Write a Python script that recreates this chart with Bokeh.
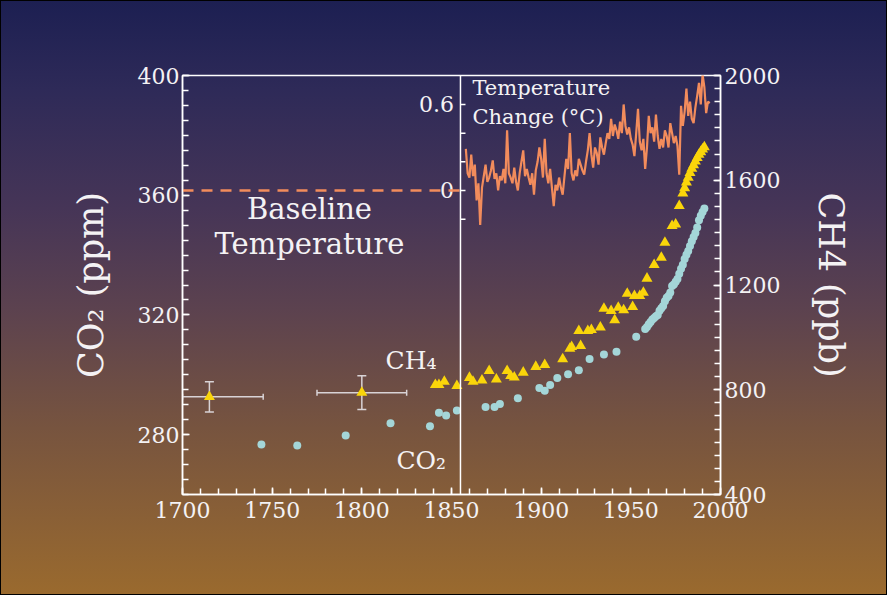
from bokeh.plotting import figure
from bokeh.models import Range1d, LinearAxis, FixedTicker, Whisker, TeeHead, ColumnDataSource, Span
from bokeh.core.properties import value
from bokeh.embed import file_html
from bokeh.resources import INLINE

# ---------------- data ----------------
co2_years = [1744, 1764, 1791, 1816, 1838, 1843, 1847, 1853, 1869, 1874, 1877, 1887,
             1899, 1902, 1905, 1909, 1915, 1921, 1927, 1935, 1942, 1953,
             1958, 1959, 1960, 1961, 1962, 1963, 1964, 1965, 1966, 1967, 1968, 1969,
             1970, 1971, 1972, 1973, 1974, 1975, 1976, 1977, 1978, 1979, 1980, 1981,
             1982, 1983, 1984, 1985, 1986, 1987, 1988, 1989, 1990, 1991]
co2_ppm = [276.7, 276.4, 279.7, 283.8, 282.8, 287.3, 286.4, 288.1, 289.2, 289.2, 290.2, 292.2,
           295.6, 294.7, 296.6, 298.9, 300.2, 301.5, 305.3, 306.8, 307.7, 312.7,
           315.3, 316.0, 316.9, 317.6, 318.5, 319.0, 319.6, 320.0, 321.4, 322.2, 323.0, 324.6,
           325.7, 326.3, 327.5, 329.7, 330.2, 331.1, 332.0, 333.8, 335.4, 336.8, 338.7, 340.1,
           341.4, 343.0, 344.6, 346.0, 347.4, 349.2, 351.6, 353.1, 354.4, 355.6]

ch4_years = [1841, 1843, 1846, 1853, 1860, 1862, 1867, 1871, 1875, 1881, 1883, 1885,
             1890, 1897, 1902, 1912, 1916, 1917, 1922, 1921, 1926, 1928, 1933, 1935,
             1939, 1941, 1943, 1946, 1951, 1948, 1952, 1955, 1957, 1959, 1963, 1967,
             1969, 1973, 1975, 1977, 1979, 1980, 1981, 1982, 1983, 1984, 1985, 1986,
             1987, 1988, 1989, 1990, 1991]
ch4_ppb = [819, 819, 831, 815, 846, 831, 836, 872, 840, 872, 853, 847,
           866, 888, 895, 917, 957, 964, 968, 1025, 1025, 1029, 1038, 1110,
           1101, 1066, 1114, 1104, 1117, 1167, 1159, 1159, 1171, 1225, 1277, 1305,
           1362, 1426, 1432, 1502, 1550, 1570, 1592, 1610, 1628, 1645, 1658, 1672,
           1686, 1698, 1708, 1718, 1727]

# ice-core CH4 points with error bars
ch4_err_years = [1715, 1800]
ch4_err_ppb = [773, 789]
ch4_err_dppb = [58, 64]
ch4_err_dyears = [30, 25]

# temperature change (deg C), annual 1858-1994
temp_years = list(range(1858, 1995))
temp_c = [0.29, 0.12,
          0.09, 0.25, 0.10, 0.18, -0.07, 0.05, -0.24, 0.02, 0.10, 0.18,
          0.06, 0.09, 0.14, 0.21, 0.08, 0.12, 0.00, 0.10, 0.07, 0.15,
          0.05, 0.42, 0.12, 0.09, 0.05, 0.16, 0.06, 0.00, 0.12, 0.20,
          0.28, 0.10, 0.15, 0.09, 0.04, 0.12, -0.03, 0.14, 0.20, 0.30,
          0.22, 0.09, 0.36, 0.12, 0.05, 0.15, 0.02, -0.11, 0.04, 0.00,
          0.09, 0.02, -0.03, 0.10, 0.22, 0.15, 0.40, 0.12, 0.07, 0.14,
          0.10, 0.22, 0.18, 0.14, 0.11, 0.20, 0.28, 0.40, 0.25, 0.16,
          0.30, 0.26, 0.18, 0.37, 0.30, 0.25, 0.33, 0.40, 0.36, 0.50,
          0.38, 0.46, 0.42, 0.36, 0.48, 0.40, 0.60, 0.45, 0.39, 0.44,
          0.36, 0.32, 0.24, 0.40, 0.57, 0.34, 0.28, 0.36, 0.15, 0.30,
          0.52, 0.40, 0.44, 0.34, 0.53, 0.38, 0.29, 0.36, 0.30, 0.42,
          0.38, 0.30, 0.47, 0.40, 0.33, 0.38, 0.31, 0.11, 0.59, 0.45,
          0.55, 0.71, 0.52, 0.62, 0.50, 0.47, 0.58, 0.66, 0.75, 0.60,
          0.81, 0.72, 0.54, 0.62, 0.61]

baseline_years = [1700, 1855]
baseline_temp = [0, 0]
divider_year = 1855

x_ticks = [1700, 1750, 1800, 1850, 1900, 1950, 2000]
co2_ticks = [280, 320, 360, 400]
ch4_ticks = [400, 800, 1200, 1600, 2000]
temp_ticks = [-0.2, 0, 0.2, 0.4, 0.6]
temp_tick_labels = ["0", "0.6"]
temp_tick_label_values = [0, 0.6]

# ---------------- style ----------------
FONT = "DejaVu Serif"
WHITE = "#f4f2f4"
ORANGE = "#f28c5c"
YELLOW = "#fad50a"
CYAN = "#a4d6d8"
ERR = "#d9d3d6"

p = figure(width=887, height=595, output_backend="svg", toolbar_location=None,
           x_range=Range1d(1700, 2000), y_range=Range1d(260, 400),
           min_border_left=182, min_border_right=167, min_border_top=75, min_border_bottom=101)
p.extra_y_ranges = {"ch4": Range1d(400, 2000), "temp": Range1d(-2.121, 0.802)}
p.background_fill_color = None
p.border_fill_color = None
p.outline_line_color = "white"
p.outline_line_width = 1.5
p.xgrid.visible = False
p.ygrid.visible = False
p.styles = {
    "background": "linear-gradient(180deg, #1c1f52 0%, #2e2a58 15%, #463557 35%, #5c424f 52%, #77543f 72%, #9a6a2e 100%)",
    "outline": "1px solid black",
    "outline-offset": "-1px",
}


def style_axis(ax, standoff):
    ax.axis_line_color = "white"
    ax.axis_line_width = 1.5
    ax.major_tick_line_color = "white"
    ax.minor_tick_line_color = "white"
    ax.major_tick_line_width = 1.5
    ax.minor_tick_line_width = 1.5
    ax.major_tick_in = 7
    ax.major_tick_out = 0
    ax.minor_tick_in = 6
    ax.minor_tick_out = 0
    ax.major_label_text_font = FONT
    ax.major_label_text_font_size = "22px"
    ax.major_label_text_color = WHITE
    ax.major_label_standoff = standoff
    ax.axis_label_text_font = FONT
    ax.axis_label_text_font_style = "normal"
    ax.axis_label_text_font_size = "35px"
    ax.axis_label_text_color = WHITE


p.xaxis.ticker = FixedTicker(ticks=x_ticks, minor_ticks=list(range(1700, 2001, 10)))
style_axis(p.xaxis[0], 7)
p.yaxis.ticker = FixedTicker(ticks=co2_ticks, minor_ticks=list(range(260, 401, 5)))
style_axis(p.yaxis[0], 3)
p.yaxis.axis_label = "CO₂ (ppm)"
p.yaxis.axis_label_standoff = 24

ch4_axis = LinearAxis(y_range_name="ch4",
                      ticker=FixedTicker(ticks=ch4_ticks, minor_ticks=list(range(400, 2001, 50))))
style_axis(ch4_axis, 4)
ch4_axis.axis_label = "CH4 (ppb)"
ch4_axis.axis_label_standoff = 28
p.add_layout(ch4_axis, "right")

# divider and temperature mini-axis
p.add_layout(Span(location=divider_year, dimension="height", line_color="white", line_width=1.5))
p.segment(x0=[divider_year] * len(temp_ticks), y0=temp_ticks,
          x1=[divider_year + 2.8] * len(temp_ticks), y1=temp_ticks,
          y_range_name="temp", line_color="white", line_width=1.5)
p.text(x=[divider_year - 3.6] * len(temp_tick_labels), y=temp_tick_label_values, text=temp_tick_labels,
       y_range_name="temp", text_align="right", text_baseline="middle",
       text_font=value(FONT), text_font_size="22px", text_color=WHITE)

# baseline dashed line
p.line(baseline_years, baseline_temp, y_range_name="temp", line_color=ORANGE,
       line_width=2.5, line_dash="11 8")

# temperature curve
p.line(temp_years, temp_c, y_range_name="temp", line_color=ORANGE, line_width=2.2)

# error bars
err_src = ColumnDataSource(dict(
    x=ch4_err_years, y=ch4_err_ppb,
    ylo=[v - d for v, d in zip(ch4_err_ppb, ch4_err_dppb)],
    yhi=[v + d for v, d in zip(ch4_err_ppb, ch4_err_dppb)],
    xlo=[max(1700, v - d) for v, d in zip(ch4_err_years, ch4_err_dyears)],
    xhi=[v + d for v, d in zip(ch4_err_years, ch4_err_dyears)],
))
p.add_layout(Whisker(source=err_src, base="x", lower="ylo", upper="yhi", dimension="height",
                     y_range_name="ch4", line_color=ERR, line_width=1.5,
                     lower_head=TeeHead(size=9, line_color=ERR, line_width=1.5),
                     upper_head=TeeHead(size=9, line_color=ERR, line_width=1.5)))
p.add_layout(Whisker(source=err_src, base="y", lower="xlo", upper="xhi", dimension="width",
                     y_range_name="ch4", line_color=ERR, line_width=1.5,
                     lower_head=TeeHead(size=6, line_color=ERR, line_width=1.5),
                     upper_head=TeeHead(size=6, line_color=ERR, line_width=1.5)))

# CO2 points
p.scatter(co2_years, co2_ppm, marker="circle", size=8, fill_color=CYAN, line_color=None)

# CH4 points
p.scatter(ch4_years, ch4_ppb, y_range_name="ch4", marker="triangle", size=11,
          fill_color=YELLOW, line_color=None)
p.scatter(ch4_err_years, ch4_err_ppb, y_range_name="ch4", marker="triangle", size=11,
          fill_color=YELLOW, line_color=None)

# labels
p.text(x=[1813.2], y=[304.8], text=["CH₄"], text_align="left", text_baseline="alphabetic",
       text_font=value(FONT), text_font_size="25px", text_color=WHITE)
p.text(x=[1819.3], y=[271.4], text=["CO₂"], text_align="left", text_baseline="alphabetic",
       text_font=value(FONT), text_font_size="25px", text_color=WHITE)
p.text(x=[1770.8], y=[349.5], text=["Baseline\nTemperature"], text_align="center",
       text_baseline="middle", text_line_height=1.05,
       text_font=value(FONT), text_font_size="29px", text_color=WHITE)
p.text(x=[1861.7], y=[0.80], text=["Temperature\nChange (°C)"], y_range_name="temp",
       text_align="left", text_baseline="top", text_line_height=1.2,
       text_font=value(FONT), text_font_size="21px", text_color=WHITE)

open("out.html", "w").write(file_html(p, INLINE))
